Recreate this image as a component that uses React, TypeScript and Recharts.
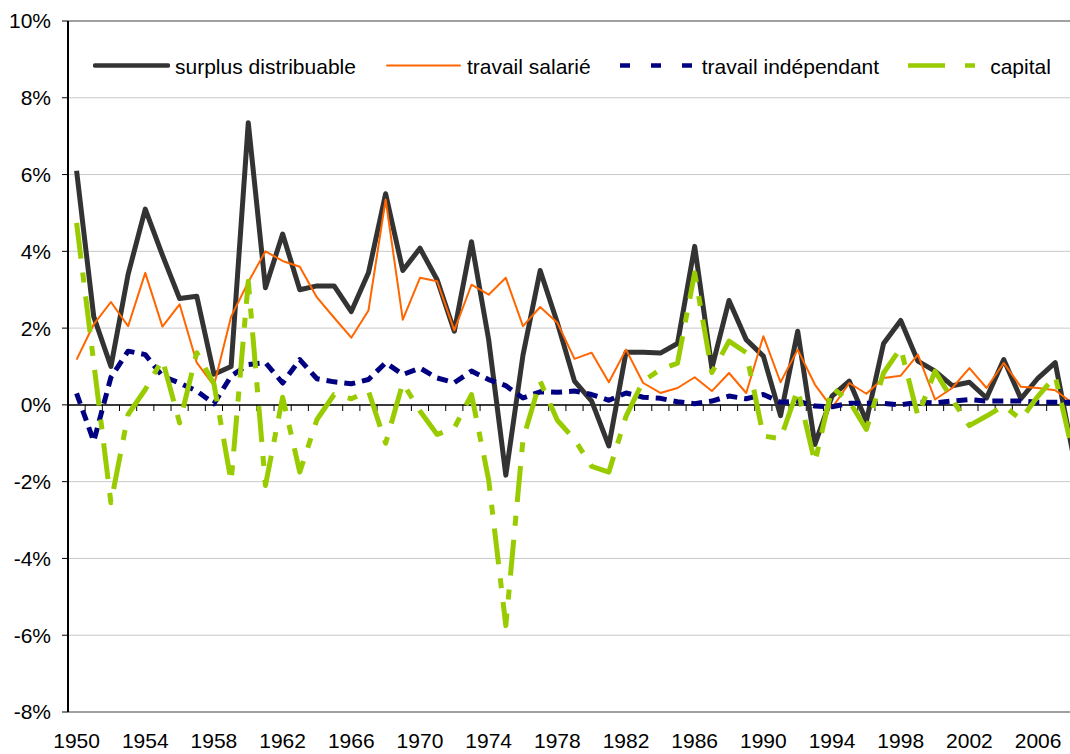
import { LineChart, Line, XAxis, YAxis, CartesianGrid, ReferenceLine } from "recharts";

const years = [
  1950, 1951, 1952, 1953, 1954, 1955, 1956, 1957, 1958, 1959,
  1960, 1961, 1962, 1963, 1964, 1965, 1966, 1967, 1968, 1969,
  1970, 1971, 1972, 1973, 1974, 1975, 1976, 1977, 1978, 1979,
  1980, 1981, 1982, 1983, 1984, 1985, 1986, 1987, 1988, 1989,
  1990, 1991, 1992, 1993, 1994, 1995, 1996, 1997, 1998, 1999,
  2000, 2001, 2002, 2003, 2004, 2005, 2006, 2007, 2008,
];

const surplus = [
  6.1, 2.3, 1.0, 3.4, 5.1, 3.9, 2.77, 2.83, 0.8, 1.0,
  7.35, 3.05, 4.45, 3.0, 3.1, 3.1, 2.43, 3.44, 5.5, 3.5,
  4.08, 3.26, 1.92, 4.25, 1.7, -1.83, 1.3, 3.5, 2.14, 0.62,
  0.1, -1.07, 1.37, 1.37, 1.35, 1.6, 4.13, 0.96, 2.72, 1.7,
  1.27, -0.28, 1.92, -1.03, 0.23, 0.62, -0.42, 1.6, 2.2, 1.14,
  0.88, 0.5, 0.59, 0.18, 1.18, 0.16, 0.7, 1.1, -1.2,
];

const salarie = [
  1.18, 2.1, 2.68, 2.05, 3.44, 2.04, 2.62, 1.1, 0.5, 2.3,
  3.2, 4.0, 3.75, 3.6, 2.8, 2.27, 1.75, 2.46, 5.35, 2.22,
  3.31, 3.22, 1.94, 3.13, 2.87, 3.31, 2.05, 2.55, 2.14, 1.2,
  1.36, 0.59, 1.44, 0.57, 0.31, 0.44, 0.72, 0.36, 0.83, 0.31,
  1.79, 0.59, 1.44, 0.53, -0.08, 0.57, 0.29, 0.7, 0.76, 1.31,
  0.14, 0.44, 0.96, 0.44, 1.09, 0.47, 0.44, 0.38, 0.05,
];

const independant = [
  0.3, -0.95, 0.72, 1.4, 1.31, 0.75, 0.57, 0.36, 0.03, 0.75,
  1.05, 1.1, 0.57, 1.18, 0.68, 0.6, 0.55, 0.66, 1.1, 0.79,
  0.96, 0.7, 0.58, 0.88, 0.66, 0.5, 0.18, 0.34, 0.33, 0.36,
  0.27, 0.12, 0.31, 0.2, 0.17, 0.08, 0.03, 0.1, 0.23, 0.16,
  0.27, 0.07, 0.1, -0.03, -0.05, 0.04, 0.04, 0.04, 0.0, 0.07,
  0.05, 0.1, 0.14, 0.1, 0.1, 0.1, 0.07, 0.07, 0.07,
];

const capital = [
  4.74, 1.1, -2.55, -0.25, 0.4, 1.18, -0.47, 1.36, 0.55, -2.0,
  3.22, -2.1, 0.2, -1.75, -0.38, 0.27, 0.16, 0.36, -1.0, 0.57,
  -0.16, -0.77, -0.6, 0.27, -1.95, -5.75, -0.9, 0.62, -0.4, -0.9,
  -1.6, -1.75, -0.3, 0.62, 0.92, 1.09, 3.44, 0.84, 1.66, 1.36,
  -0.81, -0.88, 0.4, -1.5, 0.45, 0.1, -0.64, 0.83, 1.48, -0.29,
  0.88, 0.14, -0.54, -0.29, -0.02, -0.38, 0.23, 0.75, -1.2,
];

const yearTicks = [1950, 1954, 1958, 1962, 1966, 1970, 1974, 1978, 1982, 1986, 1990, 1994, 1998, 2002, 2006];
const pctTicks = [-8, -6, -4, -2, 0, 2, 4, 6, 8, 10];

const series = [
  { key: "surplus", name: "surplus distribuable", color: "#333333", width: 5, dash: undefined, legendDash: undefined },
  { key: "salarie", name: "travail salarié", color: "#ff6600", width: 2, dash: undefined, legendDash: undefined },
  { key: "independant", name: "travail indépendant", color: "#000080", width: 5, dash: "11 7", legendDash: "10 21" },
  { key: "capital", name: "capital", color: "#99cc00", width: 5, dash: "36 14 10 14", legendDash: "37 20 10 20" },
];

const rows = years.map((year, i) => ({
  year,
  surplus: surplus[i],
  salarie: salarie[i],
  independant: independant[i],
  capital: capital[i],
}));

// tick marks sit between categories, on the zero line
const boundaries = years.slice(0, -1).map((y) => y + 0.5);

const ChartLegend = () => (
  <div
    style={{
      position: "absolute",
      left: 93,
      top: 55,
      display: "flex",
      gap: 29,
      fontSize: 21,
      lineHeight: "24px",
      color: "#000",
      whiteSpace: "nowrap",
    }}
  >
    {series.map((s) => (
      <div key={s.key} style={{ display: "flex", alignItems: "flex-start" }}>
        <svg width={77} height={24} style={{ display: "block" }}>
          <line
            x1={s.legendDash ? 0 : 2}
            x2={s.legendDash ? 77 : 75}
            y1={10.5}
            y2={10.5}
            stroke={s.color}
            strokeWidth={s.width === 5 ? 4.5 : 2}
            strokeDasharray={s.legendDash}
            strokeLinecap={s.legendDash ? "butt" : "round"}
          />
        </svg>
        <span style={{ marginLeft: 5 }}>{s.name}</span>
      </div>
    ))}
  </div>
);

export default function App() {
  return (
    <div
      style={{
        position: "absolute",
        left: 0,
        top: 0,
        width: 1070,
        height: 754,
        overflow: "hidden",
        background: "#fff",
        fontFamily: "'Liberation Sans', Arial, sans-serif",
      }}
    >
      <LineChart width={1090} height={754} data={rows} margin={{ top: 21, right: 9, left: 8, bottom: 0 }}>
        <CartesianGrid vertical={false} stroke="#c8c8c8" />
        <XAxis
          dataKey="year"
          type="number"
          domain={[1949.5, 2008.5]}
          ticks={yearTicks}
          axisLine={false}
          tickLine={false}
          tickMargin={15}
          height={42}
          interval={0}
          tick={{ fontSize: 21, fill: "#000" }}
        />
        <YAxis
          domain={[-8, 10]}
          ticks={pctTicks}
          tickFormatter={(v) => `${v}%`}
          width={60}
          axisLine={{ stroke: "#000", strokeWidth: 2 }}
          tickLine={{ stroke: "#000" }}
          tickSize={6}
          tickMargin={11}
          interval={0}
          tick={{ fontSize: 21, fill: "#000" }}
        />
        <ReferenceLine y={10} stroke="#a0a0a0" strokeWidth={2} />
        <ReferenceLine y={-8} stroke="#a0a0a0" strokeWidth={2} />
        <ReferenceLine y={0} stroke="#000" strokeWidth={1.5} />
        {boundaries.map((b) => (
          <ReferenceLine
            key={b}
            segment={[
              { x: b, y: 0 },
              { x: b, y: -0.16 },
            ]}
            stroke="#000"
            strokeWidth={1}
          />
        ))}
        {series.map((s) => (
          <Line
            key={s.key}
            type="linear"
            dataKey={s.key}
            name={s.name}
            stroke={s.color}
            strokeWidth={s.width}
            strokeDasharray={s.dash}
            strokeLinejoin="round"
            dot={false}
            activeDot={false}
            isAnimationActive={false}
          />
        ))}
      </LineChart>
      <ChartLegend />
    </div>
  );
}
